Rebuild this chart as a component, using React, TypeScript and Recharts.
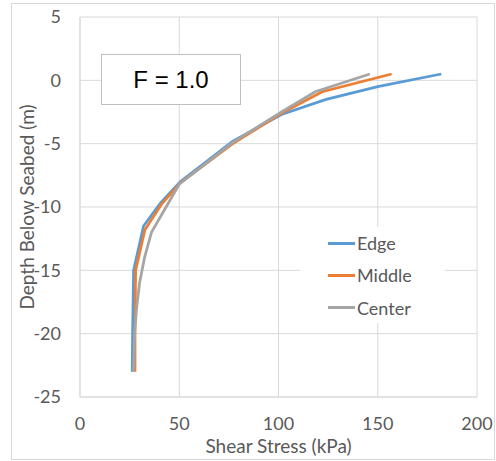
import React from 'react';
import { LineChart, Line, XAxis, YAxis, CartesianGrid, Legend } from 'recharts';

const xTicks = [0, 50, 100, 150, 200];
const yTicks = [5, 0, -5, -10, -15, -20, -25];

const edgeStress = [182, 150, 124, 101.5, 77, 50.5, 40.5, 32, 27, 26.5, 26.3];
const edgeDepth = [0.5, -0.5, -1.5, -2.7, -4.8, -8, -9.7, -11.5, -15, -20, -23];

const middleStress = [157, 122, 101.5, 77, 50.5, 41, 32.7, 28, 27.7, 27.7];
const middleDepth = [0.5, -0.9, -2.6, -5, -8.1, -9.8, -11.8, -15, -20, -23];

const centerStress = [146, 118.5, 101.5, 77, 50, 43, 36, 32.5, 30, 28.5, 27.5, 27];
const centerDepth = [0.5, -0.9, -2.5, -4.9, -8.2, -10.1, -12, -14, -16, -18, -20, -23];

const seriesNames = ['Edge', 'Middle', 'Center'];
const seriesColors = ['#5b9bd5', '#ed7d31', '#a5a5a5'];

const toPoints = (xs: number[], ys: number[]) => xs.map((x, i) => ({ x, y: ys[i] }));

const series = [
  toPoints(edgeStress, edgeDepth),
  toPoints(middleStress, middleDepth),
  toPoints(centerStress, centerDepth),
];

const FONT = 'Lato, "Open Sans", sans-serif';
const TEXT = '#595959';

const LegendContent = () => (
  <div style={{ width: 145, height: 96, background: '#fff', boxSizing: 'border-box', paddingLeft: 28, paddingTop: 0 }}>
    {seriesNames.map((n, i) => (
      <div key={n} style={{ display: 'flex', alignItems: 'center', height: 32.3, fontFamily: FONT, fontSize: 18, color: TEXT, lineHeight: '20px' }}>
        <span style={{ display: 'inline-block', width: 27, height: 3, background: seriesColors[i], marginRight: 2 }} />
        <span>{n}</span>
      </div>
    ))}
  </div>
);

export default function App() {
  return (
    <div style={{ position: 'absolute', left: 0, top: 0, width: 496, height: 461, background: '#fff' }}>
      <div style={{ position: 'absolute', left: 11, top: 3, width: 484, height: 457, border: '1px solid #d9d9d9', boxSizing: 'border-box' }} />
      <div style={{ position: 'absolute', left: 0, top: 0 }}>
        <LineChart width={496} height={461} margin={{ top: 17, right: 19, bottom: 14, left: 10 }}>
          <CartesianGrid stroke="#d9d9d9" strokeWidth={1} />
          <XAxis
            type="number"
            dataKey="x"
            domain={[0, 200]}
            ticks={xTicks}
            tickLine={false}
            tickSize={0}
            tickMargin={20}
            axisLine={{ stroke: '#d9d9d9' }}
            tick={{ fill: TEXT, fontSize: 18, fontFamily: FONT }}
            height={50}
            label={{ value: 'Shear Stress (kPa)', position: 'insideBottom', offset: -6, fill: TEXT, fontSize: 19, fontFamily: FONT }}
          />
          <YAxis
            type="number"
            dataKey="y"
            domain={[-25, 5]}
            ticks={yTicks}
            tickLine={false}
            tickSize={0}
            tickMargin={19}
            axisLine={{ stroke: '#d9d9d9' }}
            tick={{ fill: TEXT, fontSize: 18, fontFamily: FONT }}
            width={70}
            label={{ value: 'Depth Below Seabed (m)', angle: -90, position: 'insideLeft', offset: 17, fill: TEXT, fontSize: 19, fontFamily: FONT, style: { textAnchor: 'middle' } }}
          />
          {series.map((d, i) => (
            <Line
              key={seriesNames[i]}
              data={d}
              dataKey="y"
              name={seriesNames[i]}
              stroke={seriesColors[i]}
              strokeWidth={2.75}
              dot={false}
              activeDot={false}
              isAnimationActive={false}
            />
          ))}
          <Legend
            layout="horizontal"
            verticalAlign="middle"
            align="center"
            content={<LegendContent />}
            wrapperStyle={{ left: 300, top: 227, width: 145, height: 96 }}
          />
        </LineChart>
      </div>
      <div
        style={{
          position: 'absolute',
          left: 101,
          top: 54,
          width: 140,
          height: 51,
          border: '1.5px solid #bfbfbf',
          background: '#fff',
          boxSizing: 'border-box',
          display: 'flex',
          alignItems: 'center',
          justifyContent: 'center',
          fontFamily: '"Liberation Sans", Arial, sans-serif',
          fontSize: 24,
          color: '#000',
        }}
      >
        F = 1.0
      </div>
    </div>
  );
}
